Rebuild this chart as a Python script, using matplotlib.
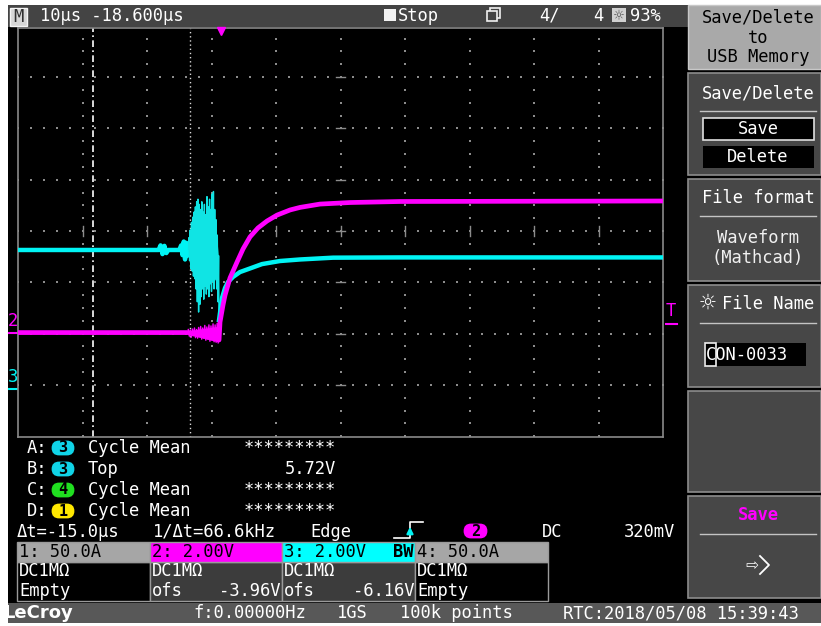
import matplotlib
matplotlib.use('Agg')
import matplotlib.pyplot as plt
from matplotlib.patches import Rectangle, FancyBboxPatch
import numpy as np

plt.rcParams['font.family'] = ['DejaVu Sans Mono', 'DejaVu Sans']

W, H = 821, 626

# --- scope setup ---
T_DIV = 10.0          # us/div
T_DELAY = -18.6       # trigger position relative to screen centre (us)
V_DIV = 2.0           # V/div, ch2 and ch3
OFS_CH2 = -3.96
OFS_CH3 = -6.16
TRIG_LEVEL = 0.32     # V on ch2
CURSOR_A = -19.7      # us
CURSOR_B = -4.7       # us

# --- ch2 (magenta): slow edge after trigger ---
ch2_t = [-31.4, -5.0, -0.23, -0.08, 0.39, 0.70, 1.47, 2.56, 3.49, 4.57, 5.81,
         7.21, 8.76, 10.78, 12.33, 15.43, 20.08, 27.83, 68.6]
ch2_v = [0.0, 0.0, -0.29, 0.41, 1.08, 1.46, 2.13, 2.75, 3.26, 3.73, 4.08,
         4.35, 4.58, 4.78, 4.88, 5.01, 5.07, 5.11, 5.13]
# ch2 noise growing before the edge
ch2_noise_t = [-5.0, -4.2, -3.4, -2.6, -1.8, -1.0, -0.25]
ch2_noise_hi = [0.08, 0.10, 0.13, 0.16, 0.19, 0.22, 0.25]
ch2_noise_lo = [-0.08, -0.10, -0.13, -0.16, -0.19, -0.22, -0.25]
ch2_spike_t = [-5.0, -4.84, -4.68, -4.52, -4.36, -4.2, -4.04, -3.88, -3.72, -3.56,
               -3.4, -3.24, -3.08, -2.92, -2.76, -2.6, -2.44, -2.28, -2.12, -1.96,
               -1.8, -1.64, -1.48, -1.32, -1.16, -1.0, -0.84, -0.68, -0.52, -0.36]
ch2_spike_v = [0.12, -0.14, 0.10, -0.18, 0.14, -0.12, 0.18, -0.20, 0.12, -0.22,
               0.20, -0.16, 0.24, -0.26, 0.18, -0.22, 0.28, -0.30, 0.22, -0.26,
               0.30, -0.34, 0.26, -0.30, 0.34, -0.36, 0.30, -0.38, 0.36, -0.40]

# --- ch3 (cyan): ringing burst then settle ---
ch3_t = [-31.4, -9.6, -9.3, -9.0, -8.7, -8.4, -8.1, -6.4, -6.1, -5.9, -5.7, -5.5,
         -5.3, -5.1, -4.95]
ch3_v = [5.42, 5.42, 5.60, 5.26, 5.58, 5.30, 5.42, 5.42, 5.60, 5.22, 5.75, 5.05,
         5.70, 5.20, 5.45]
burst_t = [-4.9, -4.8, -4.7, -4.6, -4.5, -4.4, -4.3, -4.2, -4.1, -4.0, -3.9, -3.8,
           -3.7, -3.6, -3.5, -3.4, -3.3, -3.2, -3.1, -3.0, -2.9, -2.8, -2.7, -2.6,
           -2.5, -2.4, -2.3, -2.2, -2.1, -2.0, -1.9, -1.8, -1.7, -1.6, -1.5, -1.4,
           -1.3, -1.2, -1.1, -1.0, -0.9, -0.8, -0.7, -0.6, -0.5, -0.4, -0.3]
burst_v = [5.9, 5.0, 6.2, 4.7, 6.5, 4.6, 6.7, 4.4, 6.9, 4.3, 7.1, 3.9,
           7.3, 3.4, 7.4, 3.0, 7.2, 3.3, 7.0, 3.6, 7.3, 3.9, 6.9, 3.5,
           7.2, 4.0, 6.8, 3.7, 7.5, 3.9, 7.1, 3.6, 7.4, 4.1, 7.0, 3.8,
           7.6, 4.2, 7.7, 3.9, 7.0, 4.3, 6.6, 3.9, 6.0, 3.4, 5.2]
burst_core_t = [-4.8, -4.2, -3.6, -3.0, -2.4, -1.8, -1.2, -0.7, -0.35]
burst_core_hi = [5.8, 6.3, 6.7, 6.6, 6.6, 6.8, 6.9, 6.3, 5.2]
burst_core_lo = [5.1, 4.8, 4.2, 4.0, 4.3, 4.3, 4.4, 4.2, 3.4]
settle_t = [-0.23, 0.23, 0.70, 1.16, 1.94, 3.02, 4.57, 6.43, 9.22, 12.33, 17.44, 27.83, 68.6]
settle_v = [2.69, 3.55, 3.94, 4.17, 4.37, 4.56, 4.70, 4.87, 4.99, 5.05, 5.12, 5.13, 5.13]

MAGENTA = '#ff00ff'
CYAN = '#00f4f4'


def to_div(v, ofs):
    return (np.asarray(v) + ofs) / V_DIV


fig = plt.figure(figsize=(W / 100, H / 100), dpi=100, facecolor='white')

# ---------- screen furniture in pixel coordinates ----------
bg = fig.add_axes([0, 0, 1, 1])
bg.set_xlim(0, W)
bg.set_ylim(H, 0)
bg.axis('off')


def rect(x0, y0, x1, y1, fc, ec='none', lw=0.0, z=1):
    bg.add_patch(Rectangle((x0, y0), x1 - x0, y1 - y0, facecolor=fc,
                           edgecolor=ec, linewidth=lw, zorder=z))


def txt(x, y, s, color='white', ha='left', size=12.3, z=5, **kw):
    bg.text(x, y, s, color=color, ha=ha, va='center', fontsize=size, zorder=z, **kw)


def badge(x0, x1, yc, label, fc):
    bg.add_patch(FancyBboxPatch((x0 + 6, yc - 6), x1 - x0 - 12, 12,
                                boxstyle='round,pad=0,rounding_size=6',
                                mutation_aspect=1, facecolor=fc, edgecolor=fc,
                                linewidth=2, zorder=3))
    txt((x0 + x1) / 2, yc, label, color='black', ha='center', size=11,
        fontweight='bold')


rect(8, 5, W, 623, 'black', z=0)

# header bar
rect(8, 5, 688, 27, '#444444')
rect(10, 8, 27, 26, '#d6d6d6', ec='#f4f4f4', lw=1)
txt(18.5, 17, 'M', color='#303030', ha='center')
txt(40, 16, '10µs -18.600µs')
rect(384, 9, 396, 21, '#f2f2f2')
txt(398, 16, 'Stop')
rect(490, 8, 500, 18, 'none', ec='#f0f0f0', lw=1.2, z=3)
rect(487, 11, 497, 21, '#444444', ec='#f0f0f0', lw=1.2, z=4)
txt(539, 16, '4/')
txt(593, 16, '4')
rect(612, 8, 626, 22, '#d0d0d0', z=3)
txt(619, 15, '☼', color='#505050', ha='center', size=12)
txt(630, 16, '93%')

# right-hand soft-key menu
rect(688, 5, W, 69, '#a9a9a9', ec='#c8c8c8', lw=1)
txt(758, 18, 'Save/Delete', color='black', ha='center')
txt(758, 38, 'to', color='black', ha='center')
txt(758, 57, 'USB Memory', color='black', ha='center')

for y0, y1 in [(73, 175), (179, 281), (285, 387), (391, 492), (496, 598)]:
    rect(688, y0, W, y1, '#474747', ec='#8c8c8c', lw=1.2)

txt(758, 93, 'Save/Delete', ha='center')
bg.plot([700, 816], [111, 111], color='#c4c4c4', lw=1, zorder=4)
rect(703, 118, 814, 140, 'black', ec='#e0e0e0', lw=1.2, z=3)
txt(758, 129, 'Save', ha='center')
rect(703, 146, 814, 168, 'black', z=3)
txt(758, 157, 'Delete', ha='center')

txt(758, 198, 'File format', ha='center')
bg.plot([700, 816], [216, 216], color='#c4c4c4', lw=1, zorder=4)
txt(758, 238, 'Waveform', ha='center', color='#f0f0f0')
txt(758, 258, '(Mathcad)', ha='center', color='#f0f0f0')

txt(707, 304, '☼', ha='center', size=19)
txt(722, 304, 'File Name')
bg.plot([700, 816], [323, 323], color='#c4c4c4', lw=1, zorder=4)
rect(704, 343, 806, 366, 'black', z=3)
rect(705, 343, 716, 366, 'none', ec='#f0f0f0', lw=1.2, z=4)
txt(706, 355, 'CON-0033')

txt(758, 515, 'Save', color=MAGENTA, ha='center', fontweight='bold')
bg.plot([700, 816], [534, 534], color='#c4c4c4', lw=1, zorder=4)
txt(752, 565, '⇨', ha='center', size=15)
bg.plot([760, 769, 760], [556, 565, 574], color='white', lw=1.3, zorder=5)

# channel ground / trigger markers
txt(13, 321, '2', color=MAGENTA, ha='center')
bg.plot([9, 18], [333, 333], color=MAGENTA, lw=1.5, zorder=4)
txt(13, 377, '3', color=CYAN, ha='center')
bg.plot([9, 18], [389, 389], color=CYAN, lw=1.5, zorder=4)
txt(671, 311, 'T', color=MAGENTA, ha='center')
bg.plot([666, 677], [324, 324], color=MAGENTA, lw=1.5, zorder=4)

# measurement readouts
meas = [('A:', '3', '#10d4e8', 'Cycle Mean', '*********'),
        ('B:', '3', '#10d4e8', 'Top', '5.72V'),
        ('C:', '4', '#20e020', 'Cycle Mean', '*********'),
        ('D:', '1', '#ffe800', 'Cycle Mean', '*********')]
for i, (tag, ch, col, name, val) in enumerate(meas):
    yc = 448 + i * 21
    txt(27, yc, tag)
    badge(47, 79, yc, ch, col)
    txt(88, yc, name)
    txt(336, yc, val, ha='right')

txt(17, 532, 'Δt=-15.0µs')
txt(153, 532, '1/Δt=66.6kHz')
txt(310, 532, 'Edge')
bg.plot([394, 410, 410, 423], [538, 538, 522, 522], color='white', lw=1.2, zorder=4)
bg.annotate('', xy=(410, 524), xytext=(410, 536),
            arrowprops=dict(arrowstyle='-|>', color=CYAN, lw=1.6, mutation_scale=9),
            zorder=5)
badge(459, 492, 531, '2', MAGENTA)
txt(542, 532, 'DC')
txt(624, 532, '320mV')

# vertical channel boxes
boxes = [(17, 150, '1: 50.0A', '#a6a6a6', 'black', 'Empty', None),
         (150, 282, '2: 2.00V', MAGENTA, '#3c3c3c', 'ofs', '-3.96V'),
         (282, 415, '3: 2.00V', '#00ffff', '#3c3c3c', 'ofs', '-6.16V'),
         (415, 548, '4: 50.0A', '#a6a6a6', 'black', 'Empty', None)]
for x0, x1, head, hc, body, row2, val in boxes:
    rect(x0, 562, x1, 601, body, ec='#9a9a9a', lw=1)
    rect(x0, 542, x1, 562, hc, ec='#9a9a9a', lw=1)
    txt(x0 + 2, 552, head, color='black')
    txt(x0 + 2, 571, 'DC1MΩ')
    txt(x0 + 2, 591, row2)
    if val:
        txt(x1 - 1, 591, val, ha='right')
txt(393, 552, 'BW', color='black', fontweight='bold')

# status line
rect(8, 603, W, 623, '#585858')
txt(3, 613, 'LeCroy', family='DejaVu Sans', fontweight='bold', size=13)
rect(0, 600, 8, H, 'white', z=6)
txt(193, 613, 'f:0.00000Hz')
txt(337, 613, '1GS')
txt(400, 613, '100k points')
txt(563, 613, 'RTC:2018/05/08 15:39:43')

# ---------- waveform graticule ----------
PX_DIV_Y = 51.3
Y_CENTRE = 231
ax = fig.add_axes([18 / W, 1 - 437 / H, 645 / W, 409 / H])
ax.set_facecolor('black')
t_centre = -T_DELAY
ax.set_xlim(t_centre - 5 * T_DIV, t_centre + 5 * T_DIV)
ax.set_ylim((Y_CENTRE - 437) / PX_DIV_Y, (Y_CENTRE - 28) / PX_DIV_Y)
ax.set_xticks([])
ax.set_yticks([])
for sp in ax.spines.values():
    sp.set_color('#8a8a8a')
    sp.set_linewidth(1.2)

x_lines = t_centre + T_DIV * np.arange(-4, 5)
y_lines = np.arange(-3, 4)
dot_col = '#8c8c8c'
for xl in x_lines:
    ys = np.arange(-4, 4.01, 0.25)
    ax.scatter(np.full_like(ys, xl), ys, s=1.6, marker='s', color=dot_col,
               linewidths=0, zorder=1)
for yl in y_lines:
    xs = np.arange(t_centre - 5 * T_DIV, t_centre + 5 * T_DIV + 0.01, T_DIV / 5)
    ax.scatter(xs, np.full_like(xs, yl), s=1.6, marker='s', color=dot_col,
               linewidths=0, zorder=1)
for yl in y_lines:
    ax.plot([t_centre - 0.7, t_centre + 0.7], [yl, yl], color=dot_col, lw=1, zorder=1)
for xl in x_lines:
    ax.plot([xl, xl], [-0.1, 0.1], color=dot_col, lw=1, zorder=1)

# cursors
ax.axvline(CURSOR_A, color='white', lw=1.2, dashes=(4, 2, 1, 2), zorder=2)
ax.axvline(CURSOR_B, color='#d8d8d8', lw=1.0, dashes=(1, 2), zorder=2)

# trigger position marker
ax.plot(0, (Y_CENTRE - 31) / PX_DIV_Y, marker='v', color=MAGENTA, ms=6,
        mec=MAGENTA, clip_on=False, zorder=6)

# ch3 trace
ax.plot(ch3_t, to_div(ch3_v, OFS_CH3), color=CYAN, lw=3.2, zorder=3)
ax.fill_between(burst_core_t, to_div(burst_core_lo, OFS_CH3),
                to_div(burst_core_hi, OFS_CH3), color='#10e0e0', lw=0, zorder=3)
ax.plot([-4.95] + burst_t + [settle_t[0]],
        to_div([5.45] + burst_v + [settle_v[0]], OFS_CH3),
        color='#10e4e4', lw=1.0, zorder=3)
ax.plot(settle_t, to_div(settle_v, OFS_CH3), color=CYAN, lw=3.2, zorder=3,
        solid_joinstyle='round')

# ch2 trace
ax.fill_between(ch2_noise_t, to_div(ch2_noise_lo, OFS_CH2),
                to_div(ch2_noise_hi, OFS_CH2), color=MAGENTA, lw=0, zorder=4)
ax.plot(ch2_spike_t, to_div(ch2_spike_v, OFS_CH2), color=MAGENTA, lw=1.0, zorder=4)
ax.plot(ch2_t, to_div(ch2_v, OFS_CH2), color=MAGENTA, lw=3.4, zorder=4,
        solid_joinstyle='round')

fig.savefig('out.png', dpi=100, facecolor='white')
